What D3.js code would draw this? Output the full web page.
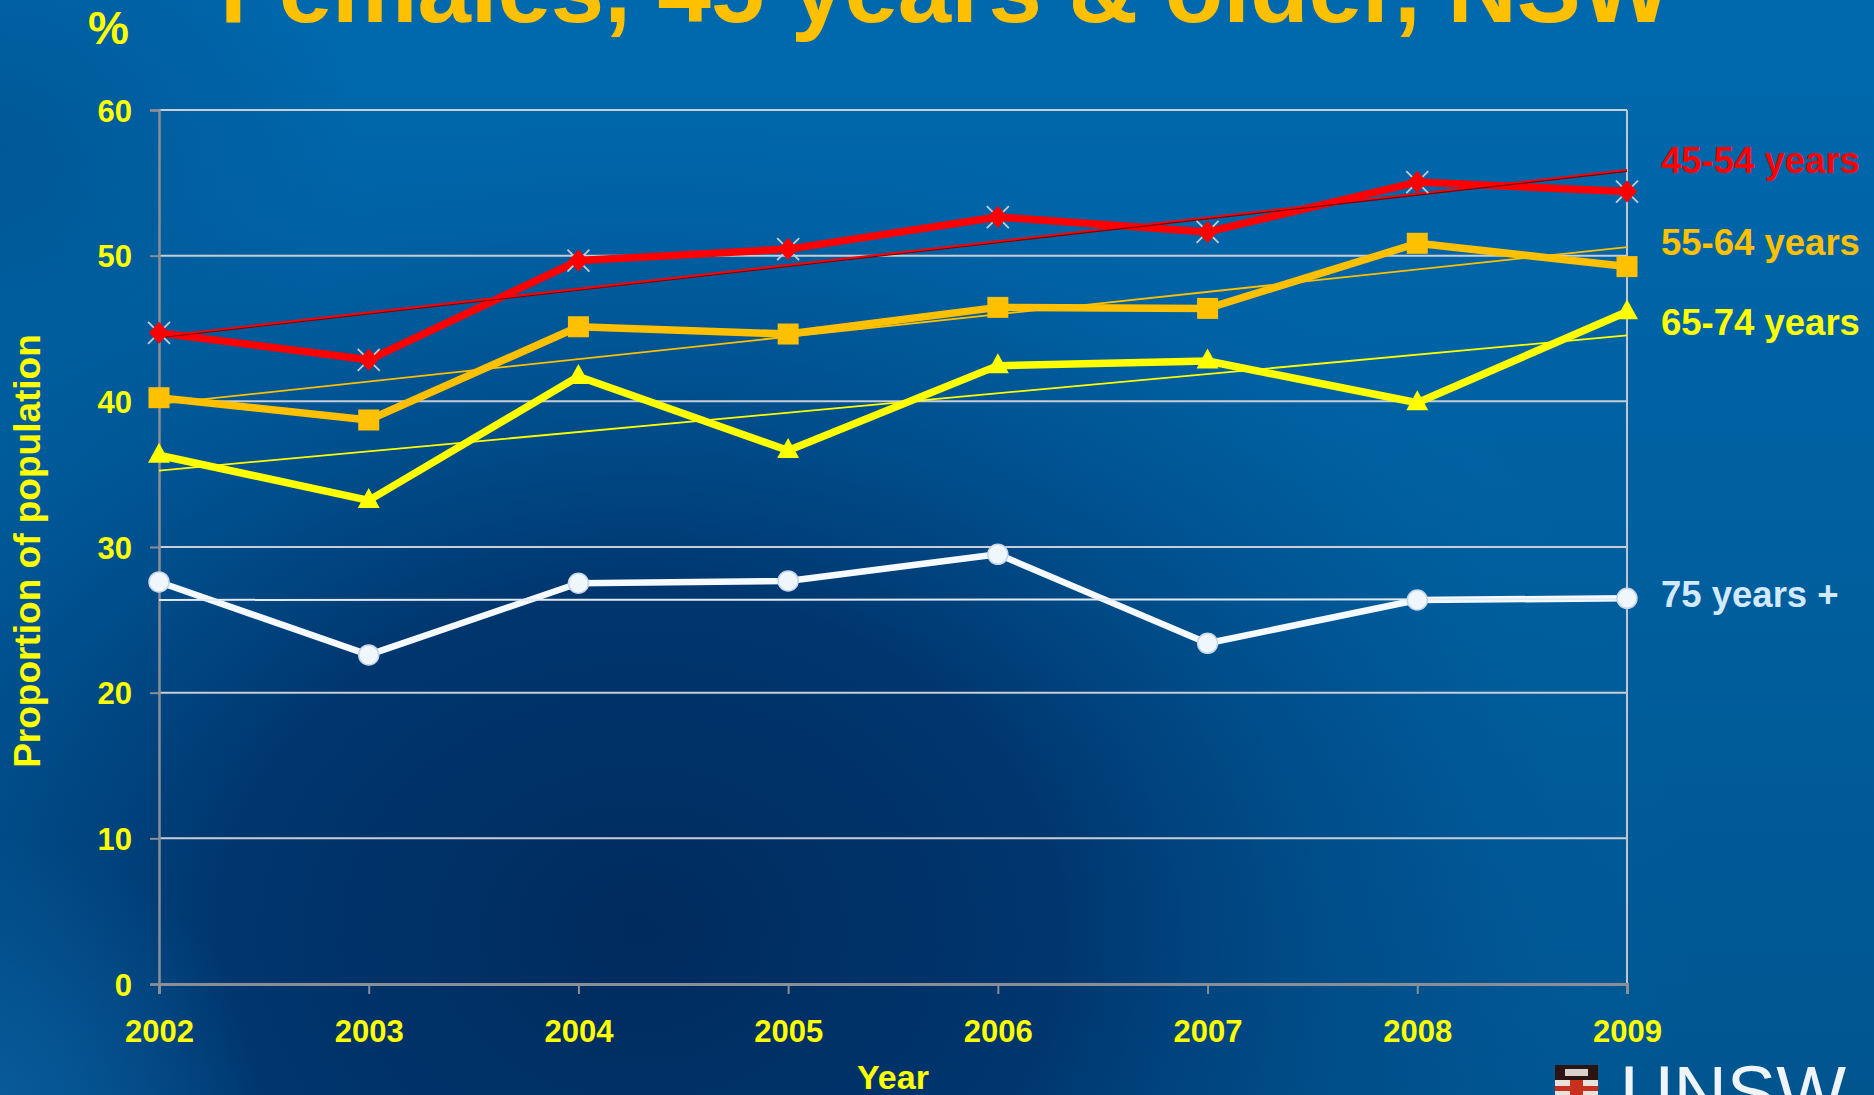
<!DOCTYPE html>
<html>
<head>
<meta charset="utf-8">
<script src="https://cdn.jsdelivr.net/npm/d3@7"></script>
<style>
  html, body { margin: 0; padding: 0; background: #0067AB; overflow: hidden; }
  svg { display: block; }
</style>
</head>
<body>
<svg id="chart" width="1874" height="1095"></svg>
<script>
// ---- data ----
const categories = ["2002", "2003", "2004", "2005", "2006", "2007", "2008", "2009"];
const seriesNames = ["45-54 years", "55-64 years", "65-74 years", "75 years +"];
const values4554 = [44.7, 42.85, 49.66, 50.45, 52.65, 51.63, 55.05, 54.4];
const values5564 = [40.25, 38.72, 45.12, 44.62, 46.45, 46.38, 50.85, 49.25];
const values6574 = [36.3, 33.2, 41.7, 36.62, 42.45, 42.77, 39.9, 46.15];
const values75 = [27.6, 22.59, 27.51, 27.67, 29.5, 23.39, 26.36, 26.48];
const yTicks = [0, 10, 20, 30, 40, 50, 60];
const titleText = "Females, 45 years & older, NSW";

const W = 1874, H = 1095;
const margin = { left: 159, right: 1627, top: 110, bottom: 984 };
const FONT = "'Liberation Sans', Arial, sans-serif";

const svg = d3.select("#chart");
const defs = svg.append("defs");

// background gradients
const lg = defs.append("linearGradient").attr("id", "bgLin")
  .attr("x1", 0).attr("y1", 0).attr("x2", 0).attr("y2", 1);
lg.append("stop").attr("offset", "0%").attr("stop-color", "#0069AE");
lg.append("stop").attr("offset", "100%").attr("stop-color", "#00558F");

const rg = defs.append("radialGradient").attr("id", "bgRad")
  .attr("gradientUnits", "userSpaceOnUse")
  .attr("cx", 640).attr("cy", 930).attr("r", 1000)
  .attr("gradientTransform", "translate(640,930) scale(1.05,0.85) translate(-640,-930)");
rg.append("stop").attr("offset", "0%").attr("stop-color", "#002B5E").attr("stop-opacity", 1);
rg.append("stop").attr("offset", "40%").attr("stop-color", "#00346C").attr("stop-opacity", 0.95);
rg.append("stop").attr("offset", "75%").attr("stop-color", "#004A88").attr("stop-opacity", 0.4);
rg.append("stop").attr("offset", "100%").attr("stop-color", "#0067AB").attr("stop-opacity", 0);

const rg2 = defs.append("radialGradient").attr("id", "bgLeft")
  .attr("gradientUnits", "userSpaceOnUse")
  .attr("cx", 0).attr("cy", 150).attr("r", 360);
rg2.append("stop").attr("offset", "0%").attr("stop-color", "#004F8C").attr("stop-opacity", 0.6);
rg2.append("stop").attr("offset", "100%").attr("stop-color", "#004F8C").attr("stop-opacity", 0);

const rg3 = defs.append("radialGradient").attr("id", "bgBL")
  .attr("gradientUnits", "userSpaceOnUse")
  .attr("cx", 0).attr("cy", 1095).attr("r", 260);
rg3.append("stop").attr("offset", "0%").attr("stop-color", "#0A5E9E").attr("stop-opacity", 0.8);
rg3.append("stop").attr("offset", "100%").attr("stop-color", "#0A5E9E").attr("stop-opacity", 0);

svg.append("rect").attr("width", W).attr("height", H).attr("fill", "url(#bgLin)");
svg.append("rect").attr("width", W).attr("height", H).attr("fill", "url(#bgRad)");
svg.append("rect").attr("width", W).attr("height", H).attr("fill", "url(#bgLeft)");
svg.append("rect").attr("width", W).attr("height", H).attr("fill", "url(#bgBL)");

// scales
const x = d3.scalePoint().domain(categories).range([margin.left, margin.right]).padding(0);
const y = d3.scaleLinear().domain([0, 60]).range([margin.bottom, margin.top]);

// gridlines
svg.append("g").selectAll("line").data(yTicks.filter(t => t > 0)).join("line")
  .attr("x1", margin.left).attr("x2", margin.right)
  .attr("y1", d => y(d)).attr("y2", d => y(d))
  .attr("stroke", "#C9CED6").attr("stroke-width", 2);

// right border
svg.append("line").attr("x1", margin.right).attr("x2", margin.right)
  .attr("y1", margin.top).attr("y2", margin.bottom)
  .attr("stroke", "#BFC6CF").attr("stroke-width", 2);

// y axis
const yAxis = d3.axisLeft(y).tickValues(yTicks).tickSize(9).tickPadding(18).tickFormat(d3.format("d"));
const gy = svg.append("g").attr("transform", `translate(${margin.left},0)`).call(yAxis);
gy.select(".domain").attr("stroke", "#8A8F96").attr("stroke-width", 2.5);
gy.selectAll(".tick line").attr("stroke", "#8A8F96").attr("stroke-width", 2);
gy.selectAll(".tick text").attr("fill", "#FFFF00").attr("font-size", 31)
  .attr("font-family", FONT).attr("font-weight", "bold")
  .attr("dy", "0.36em");

// x axis
const xAxis = d3.axisBottom(x).tickSize(10).tickPadding(26);
const gx = svg.append("g").attr("transform", `translate(0,${margin.bottom})`).call(xAxis);
gx.select(".domain").attr("stroke", "#8A8F96").attr("stroke-width", 3);
gx.selectAll(".tick line").attr("stroke", "#8A8F96").attr("stroke-width", 2);
gx.selectAll(".tick text").attr("fill", "#FFFF00").attr("font-size", 31)
  .attr("font-family", FONT).attr("font-weight", "bold")
  .attr("dy", "0.71em");

// series definitions
const series = [
  { name: seriesNames[0], values: values4554, color: "#FF0000", trend: "#FF0000", marker: "diamond", labelColor: "#FF0000" },
  { name: seriesNames[1], values: values5564, color: "#FFC000", trend: "#FFC000", marker: "square", labelColor: "#FFC000" },
  { name: seriesNames[2], values: values6574, color: "#FFFF00", trend: "#FFFF00", marker: "triangle", labelColor: "#FFFF00" },
  { name: seriesNames[3], values: values75, color: "#F4FAFF", trend: "#E2EAF2", marker: "circle", labelColor: "#D2EAFF" }
];

function linReg(vals) {
  const n = vals.length;
  const xs = vals.map((_, i) => i);
  const mx = d3.mean(xs), my = d3.mean(vals);
  let num = 0, den = 0;
  xs.forEach((xi, i) => { num += (xi - mx) * (vals[i] - my); den += (xi - mx) * (xi - mx); });
  const b = num / den, a = my - b * mx;
  return [a, a + b * (n - 1)];
}

const line = d3.line().x(d => x(d.cat)).y(d => y(d.v));

// series lines
const gLines = svg.append("g");
series.forEach(s => {
  const pts = categories.map((c, i) => ({ cat: c, v: s.values[i] }));
  gLines.append("path").datum(pts)
    .attr("d", line)
    .attr("fill", "none")
    .attr("stroke", s.color)
    .attr("stroke-width", s.marker === "circle" ? 6.5 : 7.5)
    .attr("stroke-linejoin", "round");
});

// trendlines
const gTrend = svg.append("g");
series.forEach(s => {
  const [a, b] = linReg(s.values);
  const x0 = x(categories[0]), x1 = x(categories[categories.length - 1]);
  if (s.marker === "diamond") {
    gTrend.append("line").attr("x1", x0).attr("y1", y(a) + 1.2).attr("x2", x1).attr("y2", y(b) + 1.2)
      .attr("stroke", "#7A0000").attr("stroke-width", 1.6);
  }
  gTrend.append("line").attr("x1", x0).attr("y1", y(a)).attr("x2", x1).attr("y2", y(b))
    .attr("stroke", s.trend).attr("stroke-width", s.marker === "circle" ? 2 : 1.8);
});

// markers
const gMarkers = svg.append("g");
series.forEach(s => {
  const pts = categories.map((c, i) => ({ cat: c, v: s.values[i] }));
  const g = gMarkers.append("g");
  pts.forEach(p => {
    const cx = x(p.cat), cy = y(p.v);
    if (s.marker === "diamond") {
      const r = 11;
      g.append("path").attr("d", `M${cx - r},${cy - r}L${cx + r},${cy + r}M${cx - r},${cy + r}L${cx + r},${cy - r}`)
        .attr("stroke", "#C4CCD6").attr("stroke-width", 1.8).attr("fill", "none");
      g.append("path").attr("d", `M${cx},${cy - 11}L${cx + 10},${cy}L${cx},${cy + 11}L${cx - 10},${cy}Z`)
        .attr("fill", "#FF0000");
    } else if (s.marker === "square") {
      g.append("rect").attr("x", cx - 10.5).attr("y", cy - 10.5).attr("width", 21).attr("height", 21)
        .attr("fill", "#FFC000");
    } else if (s.marker === "triangle") {
      g.append("path").attr("d", `M${cx},${cy - 12.5}L${cx + 11},${cy + 7.5}L${cx - 11},${cy + 7.5}Z`)
        .attr("fill", "#FFFF00");
    } else {
      g.append("circle").attr("cx", cx).attr("cy", cy).attr("r", 10)
        .attr("fill", "#F0F7FC").attr("stroke", "#C6D6E8").attr("stroke-width", 1.5);
    }
  });
});

// series labels at right
const labelBaselines = [173, 255, 335, 607];
svg.append("g").selectAll("text").data(series).join("text")
  .attr("x", 1661)
  .attr("y", (d, i) => labelBaselines[i])
  .attr("fill", d => d.labelColor)
  .attr("font-family", FONT).attr("font-weight", "bold")
  .attr("font-size", 36.5)
  .text(d => d.name);

// title
svg.append("text").attr("x", 220).attr("y", 22)
  .attr("fill", "#FFC000").attr("font-size", 96)
  .attr("font-family", FONT).attr("font-weight", "bold")
  .text(titleText);

// % label
svg.append("text").attr("x", 88).attr("y", 44)
  .attr("fill", "#FFFF00").attr("font-size", 46)
  .attr("font-family", FONT).attr("font-weight", "bold")
  .text("%");

// y axis title
svg.append("text").attr("transform", "translate(40,551) rotate(-90)")
  .attr("text-anchor", "middle").attr("fill", "#FFFF00").attr("font-size", 37)
  .attr("font-family", FONT).attr("font-weight", "bold")
  .text("Proportion of population");

// x axis title
svg.append("text").attr("x", (margin.left + margin.right) / 2).attr("y", 1089)
  .attr("text-anchor", "middle").attr("fill", "#FFFF00").attr("font-size", 34)
  .attr("font-family", FONT).attr("font-weight", "bold")
  .text("Year");

// UNSW logo
const logo = svg.append("g");
logo.append("rect").attr("x", 1555).attr("y", 1065).attr("width", 43).attr("height", 30).attr("fill", "#E8E2DC");
logo.append("rect").attr("x", 1555).attr("y", 1065).attr("width", 43).attr("height", 15).attr("fill", "#2A1512");
logo.append("rect").attr("x", 1565).attr("y", 1069).attr("width", 23).attr("height", 7).attr("fill", "#D8D0CC");
logo.append("rect").attr("x", 1570).attr("y", 1080).attr("width", 13).attr("height", 15).attr("fill", "#C8301E");
logo.append("rect").attr("x", 1555).attr("y", 1086).attr("width", 43).attr("height", 5).attr("fill", "#C8301E");
logo.append("text").attr("x", 1620).attr("y", 1118)
  .attr("font-family", FONT)
  .style("font-weight", "400")
  .attr("font-size", 74).attr("fill", "#EEF4FA")
  .attr("textLength", 226).attr("lengthAdjust", "spacingAndGlyphs")
  .text("UNSW");
</script>
</body>
</html>
